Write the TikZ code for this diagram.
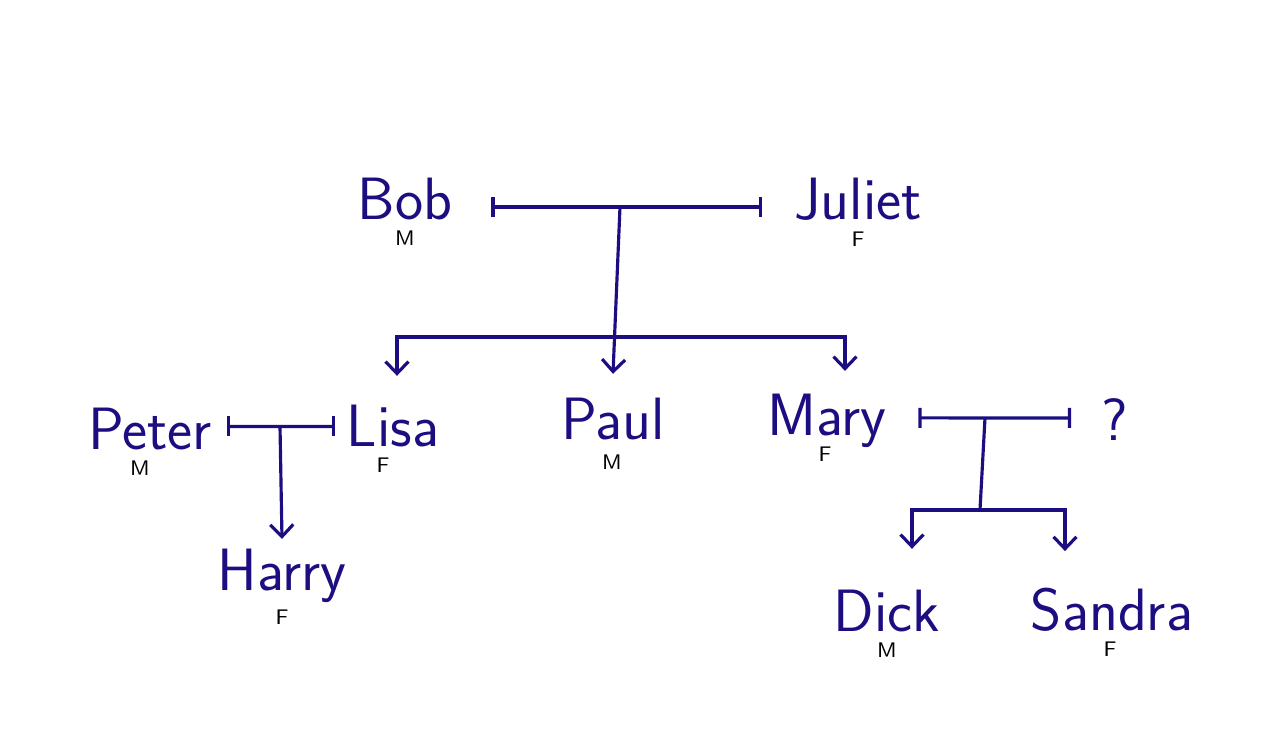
\documentclass[tikz,border=0pt]{standalone}
\usetikzlibrary{arrows.meta,positioning}
\definecolor{ink}{RGB}{28,14,128}
\begin{document}
\begin{tikzpicture}[node distance=1mm]
\useasboundingbox (0,0) rectangle (12.69,7.47);
% Estilos
\tikzset{person/.style={font=\sffamily\fontsize{17}{20}\selectfont,text=ink,inner sep=1pt},
  sex/.style={font=\sffamily\fontsize{6}{7}\selectfont,text=black,inner sep=0pt},
  couple/.style={draw=ink,line width=.9pt,{Bar[width=2mm]}-{Bar[width=2mm]}},
  link/.style={draw=ink,line width=.9pt},
  child/.style={draw=ink,line width=.9pt,-{Straight Barb[length=1.2mm,width=2.3mm]}}}

% Pessoas
\node[person] (bob) at (4.05,5.475) {Bob};
\node[sex] (bobsex) at (4.05,5.09) {M};
\node[person] (juliet) at (8.58,5.475) {Juliet};
\node[sex] (julietsex) at (8.58,5.08) {F};
\node[person] (peter) at (1.50,3.175) {Peter};
\node[sex] (petersex) at (1.40,2.79) {M};
\node[person] (lisa) at (3.93,3.205) {Lisa};
\node[sex] (lisasex) at (3.83,2.82) {F};
\node[person] (paul) at (6.13,3.275) {Paul};
\node[sex] (paulsex) at (6.12,2.85) {M};
\node[person] (mary) at (8.27,3.266) {Mary};
\node[sex] (marysex) at (8.25,2.93) {F};
\node[person] (unknown) at (11.15,3.275) {?};
\node[person] (harry) at (2.82,1.716) {Harry};
\node[sex] (harrysex) at (2.82,1.30) {F};
\node[person] (dick) at (8.87,1.355) {Dick};
\node[sex] (dicksex) at (8.87,0.97) {M};
\node[person] (sandra) at (11.12,1.375) {Sandra};
\node[sex] (sandrasex) at (11.10,0.98) {F};

% Casais
\draw[couple] ([shift={(3.5mm,-.75mm)}]bob.east) -- ([shift={(-2.8mm,-.75mm)}]juliet.west);
\draw[couple] ([shift={(1.05mm,.3mm)}]peter.east) -- ([shift={(-.75mm,0mm)}]lisa.west);
\draw[couple] ([shift={(2.75mm,.25mm)}]mary.east) -- ([shift={(-2.65mm,.15mm)}]unknown.west);

% Filhos
\coordinate (bj) at (6.20,5.40);
\coordinate (bjkids) at (6.17,4.10);
\draw[child] (bj) -- ([yshift=2.05mm]paul.north);
\draw[child] (bjkids) -| ([shift={(0.4mm,2.55mm)}]lisa.north);
\draw[child] (bjkids) -| ([shift={(1.8mm,1.85mm)}]mary.north);

\coordinate (pl) at (2.80,3.21);
\draw[child] (pl) -- ([yshift=.55mm]harry.north);

\coordinate (mq) at (9.85,3.29);
\coordinate (mqkids) at (9.80,2.37);
\draw[link] (mq) -- (mqkids);
\draw[child] (mqkids) -| ([shift={(2.5mm,3.75mm)}]dick.north);
\draw[child] (mqkids) -| ([shift={(-4.7mm,3.25mm)}]sandra.north);

\end{tikzpicture}
\end{document}
